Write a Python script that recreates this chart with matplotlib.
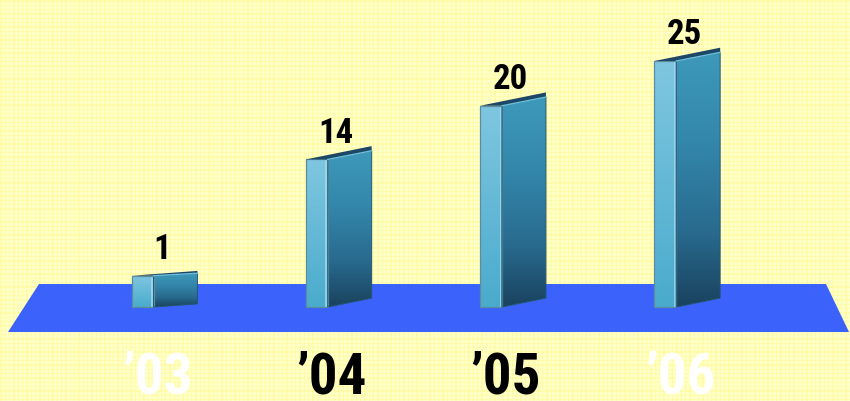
import numpy as np
import matplotlib
matplotlib.use("Agg")
import matplotlib.pyplot as plt
from matplotlib.patches import Polygon
from matplotlib.colors import LinearSegmentedColormap
from matplotlib import font_manager

# Chart data
years = ["\u201903", "\u201904", "\u201905", "\u201906"]
values = [1, 14, 20, 25]
year_colors = ["white", "black", "black", "white"]

# Prefer a narrow face for the labels when one is installed
_names = {f.name for f in font_manager.fontManager.ttflist}
_condensed = [f for f in font_manager.fontManager.ttflist
              if f.name == "DejaVu Sans" and "ondensed" in f.fname]
if "Liberation Sans Narrow" in _names:
    FONT, STRETCH = ["Liberation Sans Narrow", "DejaVu Sans"], "normal"
elif "Roboto Condensed" in _names:
    FONT, STRETCH = ["Roboto Condensed", "DejaVu Sans"], "normal"
elif _condensed:
    FONT, STRETCH = ["DejaVu Sans"], "condensed"
else:
    FONT, STRETCH = ["Roboto", "DejaVu Sans"], "normal"

W, H, DPI = 850, 401, 100
fig = plt.figure(figsize=(W / DPI, H / DPI), dpi=DPI)

# ---- background: pale yellow plaid and blue floor (pixel units) ----
bg = fig.add_axes([0, 0, 1, 1])
bg.set_xlim(0, W)
bg.set_ylim(H, 0)
bg.axis("off")

yy, xx = np.mgrid[0:H, 0:W]


def stripes(a):
    m = a % 13
    return np.isin(m, [0, 1, 5, 9]).astype(float)


mix = np.clip(0.5 * stripes(xx) + 0.5 * stripes(yy), 0, 1)[..., None]
base_col = np.array([255, 255, 200]) / 255
line_col = np.array([255, 250, 155]) / 255
tex = base_col * (1 - mix) + line_col * mix
bg.imshow(tex, extent=[0, W, H, 0], interpolation="nearest", zorder=0)

floor = Polygon([(39, 284), (826, 284), (849, 332), (8, 332)],
                closed=True, facecolor="#3B63FC", edgecolor="none", zorder=1)
bg.add_patch(floor)

# ---- data axes for the bars ----
ax = fig.add_axes([0, 0, 1, 1])
ax.set_xlim(-0.944, 3.934)
ax.set_ylim(-13.0, 31.82)
ax.axis("off")
ax.patch.set_alpha(0)

dark_cmap = LinearSegmentedColormap.from_list(
    "dark_face",
    [(0.0, (0.10, 0.26, 0.37)), (0.30, (0.16, 0.42, 0.56)),
     (0.65, (0.20, 0.53, 0.67)), (1.0, (0.24, 0.60, 0.73))])
light_cmap = LinearSegmentedColormap.from_list(
    "light_face",
    [(0.0, (0.29, 0.67, 0.80)), (1.0, (0.50, 0.78, 0.88))])
grad = np.linspace(0, 1, 256).reshape(-1, 1)

base = -2.5
half_w = 0.189
split_off = -0.063

for i, v in enumerate(values):
    left = i - half_w
    split = i + split_off
    right = i + half_w
    # perspective slant of the side face, flatter for short bars
    k = min(1.0, (v - base) / 12.0)
    top_rise = 0.97 * k
    top_lip = 1.34 * k + 0.15
    bottom_rise = 1.0 * min(1.0, (v - base) / 10.0)

    light_pts = [(left, base), (split, base), (split, v), (left, v)]
    dark_pts = [(split, base), (right, base + bottom_rise),
                (right, v + top_rise), (split, v)]
    top_pts = [(left, v), (split, v), (right, v + top_rise), (right, v + top_lip)]

    for pts, cmap, x0, x1, y1 in [
        (light_pts, light_cmap, left, split, v),
        (dark_pts, dark_cmap, split, right, v + top_rise),
    ]:
        clip = Polygon(pts, closed=True, facecolor="none", edgecolor="none",
                       transform=ax.transData)
        ax.add_patch(clip)
        im = ax.imshow(grad, cmap=cmap, origin="lower", aspect="auto",
                       extent=[x0, x1, base, y1], zorder=3)
        im.set_clip_path(clip)

    # bright highlight along the front edge
    ax.add_patch(Polygon([(split - 0.014, base), (split - 0.004, base),
                          (split - 0.004, v), (split - 0.014, v)],
                         closed=True, facecolor=(0.66, 0.87, 0.94), alpha=0.7,
                         edgecolor="none", zorder=4))
    # outlines
    ax.add_patch(Polygon(light_pts, closed=True, facecolor="none",
                         edgecolor=(0.36, 0.55, 0.62), linewidth=0.9, zorder=5))
    ax.add_patch(Polygon(dark_pts, closed=True, facecolor="none",
                         edgecolor=(0.14, 0.34, 0.46), linewidth=0.7, zorder=5))
    # top face
    ax.add_patch(Polygon(top_pts, closed=True, facecolor=(0.11, 0.28, 0.40),
                         edgecolor="none", zorder=6))
    ax.plot([split, right], [v, v + top_rise], color=(0.42, 0.74, 0.85),
            linewidth=1.0, zorder=7)

    # value label
    ax.annotate(str(v), (i, v), xytext=(-2, 12), textcoords="offset points",
                ha="center", va="baseline", fontsize=25, fontweight="bold",
                family=FONT, fontstretch=STRETCH, color="black", zorder=8)

    # year label
    ax.text(i - 0.042, -12.2, years[i], ha="center", va="baseline",
            fontsize=41, fontweight="bold", family=FONT, fontstretch=STRETCH,
            color=year_colors[i], zorder=8)

fig.savefig("out.png", dpi=DPI)
